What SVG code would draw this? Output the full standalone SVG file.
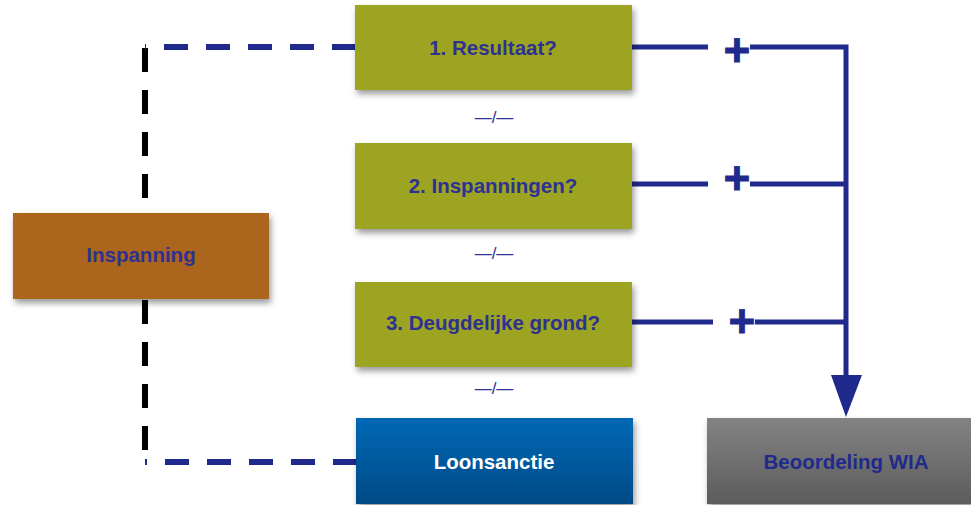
<svg xmlns="http://www.w3.org/2000/svg" width="971" height="505" viewBox="0 0 971 505">
<style>
.lbl{font-family:"Liberation Sans",Arial,sans-serif;font-weight:bold;font-size:20.5px;text-anchor:middle;fill:#2e3192}
.wht{fill:#ffffff}
.sep{font-family:"Liberation Sans",Arial,sans-serif;font-size:17px;text-anchor:middle;fill:#2e3192}
.plus{font-family:"Liberation Sans",Arial,sans-serif;font-weight:bold;font-size:46px;text-anchor:middle;fill:#1f2a8c;stroke:#1f2a8c;stroke-width:0.8}
.solid{fill:none;stroke:#1f2a8c;stroke-width:5}
.bdash{fill:none;stroke:#1f2a8c;stroke-width:6;stroke-dasharray:24 18}
.kdash{fill:none;stroke:#000000;stroke-width:6;stroke-dasharray:24 18}
</style>
<defs>
<filter id="sh" x="-10%" y="-10%" width="130%" height="140%">
<feDropShadow dx="2" dy="4" stdDeviation="3" flood-color="#000" flood-opacity="0.4"/>
</filter>
<linearGradient id="gBlue" x1="0" y1="0" x2="0" y2="1">
<stop offset="0" stop-color="#0068b4"/><stop offset="1" stop-color="#004a86"/>
</linearGradient>
<linearGradient id="gGray" x1="0" y1="0" x2="0" y2="1">
<stop offset="0" stop-color="#838383"/><stop offset="1" stop-color="#5c5c5c"/>
</linearGradient>
</defs>
<g id="connectors">
<path class="kdash" d="M145,48 V451"/>
<path class="bdash" d="M356,47 H145"/>
<path class="bdash" d="M357,462 H145"/>
<path class="solid" d="M632,47 H708"/>
<path class="solid" d="M625,184 H708"/>
<path class="solid" d="M625,322 H713"/>
<path class="solid" d="M750,47 H846 V378" stroke-linejoin="miter"/>
<path class="solid" d="M750,184 H846"/>
<path class="solid" d="M755,322 H846"/>
<polygon points="831,375 862,375 846,417" fill="#1f2a8c"/>
<text class="plus" x="737" y="66">+</text>
<text class="plus" x="737" y="194">+</text>
<text class="plus" x="742" y="337">+</text>
<text class="sep" x="494" y="123">—/—</text>
<text class="sep" x="494" y="259">—/—</text>
<text class="sep" x="494" y="394">—/—</text>
</g>
<g id="inspanning">
<rect x="13" y="213" width="256" height="86" fill="#ab651f" filter="url(#sh)"/>
<text class="lbl" x="141" y="262">Inspanning</text>
</g>
<g id="resultaat">
<rect x="355" y="5" width="277" height="85" fill="#9ca420" filter="url(#sh)"/>
<text class="lbl" x="493" y="55">1. Resultaat?</text>
</g>
<g id="inspanningen">
<rect x="355" y="143" width="277" height="86" fill="#9ca420" filter="url(#sh)"/>
<text class="lbl" x="493" y="193">2. Inspanningen?</text>
</g>
<g id="deugdelijke">
<rect x="355" y="282" width="277" height="85" fill="#9ca420" filter="url(#sh)"/>
<text class="lbl" x="493" y="330">3. Deugdelijke grond?</text>
</g>
<g id="loonsanctie">
<rect x="356" y="418" width="277" height="86" fill="url(#gBlue)" filter="url(#sh)"/>
<text class="lbl wht" x="494" y="469">Loonsanctie</text>
</g>
<g id="beoordeling">
<rect x="707" y="418" width="280" height="86" fill="url(#gGray)" filter="url(#sh)"/>
<text class="lbl" x="846" y="469" style="fill:#1f2a8c">Beoordeling WIA</text>
</g>
</svg>
